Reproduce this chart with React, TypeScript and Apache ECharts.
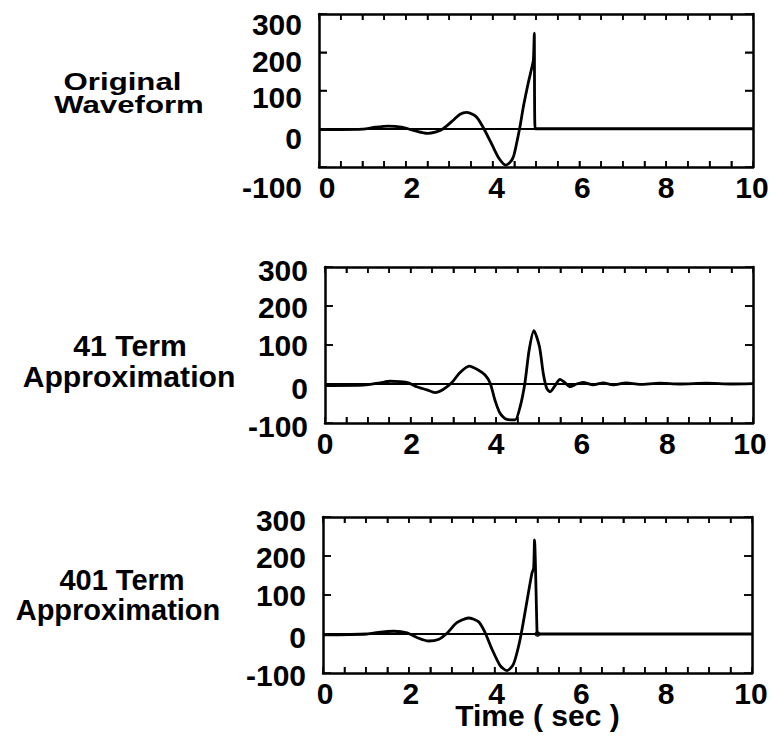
import React, { useEffect, useRef } from "react";
import * as echarts from "echarts";

// ---------- data ----------
const timeTicks = [0, 2, 4, 6, 8, 10];
const ampTicks = [-100, 0, 100, 200, 300];
const timeMinorStep = 0.5;

const originalWaveform: [number, number][] = [
  [0, -2], [0.5, -2], [1.0, -1], [1.3, 4], [1.6, 7], [1.9, 4], [2.2, -5], [2.5, -12],
  [2.7, -8], [2.86, 0], [3.1, 23], [3.25, 38], [3.4, 43], [3.55, 37], [3.65, 28], [3.8, 0],
  [4.0, -45], [4.15, -78], [4.3, -95], [4.4, -88], [4.48, -73], [4.55, -40], [4.63, 5],
  [4.71, 58], [4.82, 119], [4.9, 158], [4.94, 180], [4.96, 250], [4.98, 0], [5.1, 0], [10, 0],
];

const approx41: [number, number][] = [
  [0, -4], [0.9, -3], [1.29, 3], [1.52, 7], [1.75, 6], [1.95, 3], [2.14, -7], [2.38, -15],
  [2.57, -22], [2.76, -14], [2.96, 3], [3.15, 29], [3.37, 46], [3.58, 36], [3.74, 23],
  [3.86, 2], [3.97, -41], [4.09, -75], [4.25, -91], [4.44, -92], [4.56, -58], [4.67, 2],
  [4.77, 87], [4.88, 137], [5.01, 96], [5.1, 27], [5.18, -11], [5.26, -20], [5.37, -5],
  [5.49, 12], [5.61, 3], [5.72, -7], [5.88, 0], [6.03, 4], [6.26, -2], [6.5, 3], [6.73, -2],
  [7.04, 3], [7.35, -1], [7.82, 2], [8.29, 0], [8.91, 2], [9.5, 0], [10, 1],
];

const approx401: [number, number][] = [
  [0, -2], [1.02, 0], [1.34, 5], [1.65, 7], [1.96, 3], [2.19, -9], [2.46, -18], [2.69, -14],
  [2.89, 2], [3.12, 29], [3.39, 41], [3.63, 31], [3.78, 3], [3.94, -39], [4.13, -81],
  [4.29, -94], [4.44, -77], [4.56, -31], [4.64, 12], [4.76, 88], [4.87, 156], [4.91, 169],
  [4.93, 241], [4.99, 2], [5.0, 0], [5.1, 0], [10, 0],
];

const approx401Dot: [number, number][] = [[5.0, 0]];

const panelTitles = [
  ["Original", "Waveform"],
  ["41 Term", "Approximation"],
  ["401 Term", "Approximation"],
];
const xAxisTitle = "Time ( sec )";

// ---------- layout / style ----------
const FONT = '"Liberation Sans", Arial, Helvetica, sans-serif';
const BLACK = "#000";
const X_TICK_PX = 6;
const Y_TICK_PX = 8;

type Panel = {
  grid: { left: number; top: number; width: number; height: number };
  ySh: number[];
  xSh: number[];
  data: [number, number][];
  titlePos: { x: number; y: number }[];
  titleSize: number;
  titleScale: number;
};

const panels: Panel[] = [
  {
    grid: { left: 319, top: 14, width: 434, height: 153 },
    ySh: [20, 10, 7, 9.5, 10],
    xSh: [8, 6, 4, 3, 0, -1],
    data: originalWaveform,
    titlePos: [{ x: 122.5, y: 81.5 }, { x: 129, y: 104.5 }],
    titleSize: 24,
    titleScale: 1.3,
  },
  {
    grid: { left: 325, top: 267, width: 428, height: 156 },
    ySh: [3, 4, 0.5, 1.5, 3],
    xSh: [0, 1, 0, 0, 0, -3],
    data: approx41,
    titlePos: [{ x: 130, y: 346 }, { x: 129, y: 376.5 }],
    titleSize: 29,
    titleScale: 1.04,
  },
  {
    grid: { left: 323, top: 517, width: 429, height: 156 },
    ySh: [2.5, 3.5, 0.5, 1.5, 3],
    xSh: [2, 2, 2, 1, 0, -1],
    data: approx401,
    titlePos: [{ x: 122, y: 580 }, { x: 118, y: 610 }],
    titleSize: 29,
    titleScale: 1.0,
  },
];

const font = () => ({ fontSize: 30, fontWeight: "bold" as const, fontFamily: FONT, color: BLACK });

const X_MIN = timeTicks[0];
const X_MAX = timeTicks[timeTicks.length - 1];
const Y_MIN = ampTicks[0];
const Y_MAX = ampTicks[ampTicks.length - 1];

function xAxisFor(i: number, p: Panel, pos: "bottom" | "top"): any {
  const ax: any = {
    gridIndex: i,
    type: "value",
    position: pos,
    min: X_MIN,
    max: X_MAX,
    interval: 2,
    axisLine: { show: true, onZero: false, lineStyle: { color: BLACK, width: 2.5 } },
    axisTick: { show: true, inside: true, length: X_TICK_PX, lineStyle: { color: BLACK, width: 1.5 } },
    minorTick: { show: true, splitNumber: 4, length: X_TICK_PX, lineStyle: { color: BLACK, width: 1.5 } },
    splitLine: { show: false },
    minorSplitLine: { show: false },
  };
  if (pos === "top") {
    ax.axisLabel = { show: false };
  } else {
    const rich: any = {};
    timeTicks.forEach((v, k) => {
      const d = p.xSh[k];
      rich["x" + k] = { ...font(), padding: [0, Math.max(0, -2 * d), 0, Math.max(0, 2 * d)] };
    });
    ax.axisLabel = {
      ...font(),
      margin: 5,
      formatter: (v: number) => {
        const k = timeTicks.indexOf(v);
        return k >= 0 ? `{x${k}|${v}}` : String(v);
      },
      rich,
    };
  }
  return ax;
}

function yAxisFor(i: number, p: Panel, pos: "left" | "right"): any {
  const ax: any = {
    gridIndex: i,
    type: "value",
    position: pos,
    min: Y_MIN,
    max: Y_MAX,
    interval: 100,
    axisLine: { show: true, onZero: false, lineStyle: { color: BLACK, width: 2.5 } },
    axisTick: { show: true, inside: true, length: Y_TICK_PX, lineStyle: { color: BLACK, width: 1.5 } },
    splitLine: { show: false },
  };
  if (pos === "right") {
    ax.axisLabel = { show: false };
  } else {
    const rich: any = {};
    ampTicks.forEach((v, k) => {
      const d = p.ySh[k];
      rich["y" + k] = { ...font(), padding: [Math.max(0, 2 * d), 0, Math.max(0, -2 * d), 0] };
    });
    ax.axisLabel = {
      ...font(),
      margin: 17,
      formatter: (v: number) => {
        const k = ampTicks.indexOf(v);
        return k >= 0 ? `{y${k}|${v}}` : String(v);
      },
      rich,
    };
  }
  return ax;
}

function titleGraphics(): any[] {
  const out: any[] = [];
  panels.forEach((p, i) => {
    panelTitles[i].forEach((t, k) => {
      out.push({
        type: "text",
        x: p.titlePos[k].x,
        y: p.titlePos[k].y,
        scaleX: p.titleScale,
        silent: true,
        style: {
          text: t,
          font: `bold ${p.titleSize}px ${FONT}`,
          fill: BLACK,
          align: "center",
          verticalAlign: "middle",
        },
      });
    });
  });
  return out;
}

// inward frame ticks, placed through the chart's own scales (convertToPixel)
function tickGraphics(chart: echarts.ECharts): any[] {
  const out: any[] = [];
  const style = { stroke: BLACK, lineWidth: 1.5 };
  panels.forEach((p, i) => {
    const finder = { xAxisIndex: 2 * i, yAxisIndex: 2 * i };
    const px = (x: number, y: number) => chart.convertToPixel(finder as any, [x, y]) as number[];
    const n = Math.round((X_MAX - X_MIN) / timeMinorStep);
    for (let k = 1; k < n; k++) {
      const x = X_MIN + k * timeMinorStep;
      const top = px(x, Y_MAX);
      const bot = px(x, Y_MIN);
      out.push({ type: "line", silent: true, shape: { x1: top[0], y1: top[1], x2: top[0], y2: top[1] + X_TICK_PX }, style });
      out.push({ type: "line", silent: true, shape: { x1: bot[0], y1: bot[1], x2: bot[0], y2: bot[1] - X_TICK_PX }, style });
    }
    ampTicks.slice(1, -1).forEach((y) => {
      const l = px(X_MIN, y);
      const r = px(X_MAX, y);
      out.push({ type: "line", silent: true, shape: { x1: l[0], y1: l[1], x2: l[0] + Y_TICK_PX, y2: l[1] }, style });
      out.push({ type: "line", silent: true, shape: { x1: r[0], y1: r[1], x2: r[0] - Y_TICK_PX, y2: r[1] }, style });
    });
  });
  return out;
}

function buildOption() {
  const grids: any[] = [];
  const xAxes: any[] = [];
  const yAxes: any[] = [];
  const series: any[] = [];

  panels.forEach((p, i) => {
    grids.push({ left: p.grid.left, top: p.grid.top, width: p.grid.width, height: p.grid.height });

    const bottom = xAxisFor(i, p, "bottom");
    if (i === 2) {
      bottom.name = xAxisTitle;
      bottom.nameLocation = "middle";
      bottom.nameGap = 27;
      bottom.nameMoveOverlap = false;
      bottom.nameTextStyle = font();
    }
    xAxes.push(bottom);
    xAxes.push(xAxisFor(i, p, "top"));
    yAxes.push(yAxisFor(i, p, "left"));
    yAxes.push(yAxisFor(i, p, "right"));

    series.push({
      type: "line",
      xAxisIndex: 2 * i,
      yAxisIndex: 2 * i,
      data: p.data,
      showSymbol: false,
      symbol: "none",
      smooth: 0.25,
      lineStyle: { color: BLACK, width: 2.8 },
      markLine: {
        silent: true,
        symbol: ["none", "none"],
        label: { show: false },
        lineStyle: { color: BLACK, width: 2, type: "solid" },
        data: [{ yAxis: 0 }],
      },
    });
  });

  series.push({
    type: "scatter",
    xAxisIndex: 4,
    yAxisIndex: 4,
    data: approx401Dot,
    symbolSize: 6,
    itemStyle: { color: BLACK },
  });

  return {
    animation: false,
    grid: grids,
    xAxis: xAxes,
    yAxis: yAxes,
    series,
  };
}

export default function App() {
  const ref = useRef<HTMLDivElement>(null);
  useEffect(() => {
    if (!ref.current) return;
    const chart = echarts.init(ref.current, undefined, { renderer: "svg" });
    chart.setOption(buildOption() as any);
    let ticks: any[] = [];
    try {
      ticks = tickGraphics(chart);
    } catch (e) {
      ticks = [];
    }
    chart.setOption({ graphic: [...titleGraphics(), ...ticks] } as any);
    return () => chart.dispose();
  }, []);
  return (
    <div
      ref={ref}
      style={{ position: "absolute", left: 0, top: 0, width: 773, height: 738, background: "#fff" }}
    />
  );
}
